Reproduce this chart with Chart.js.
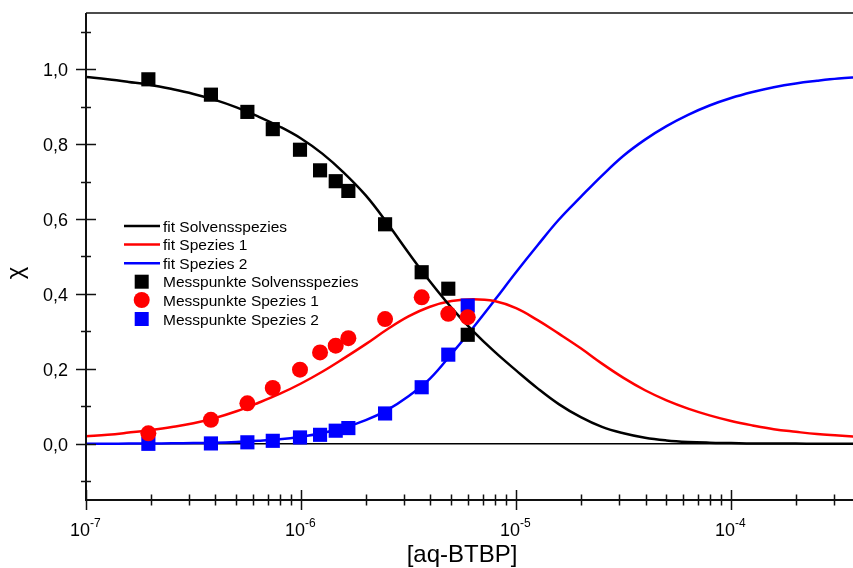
<!DOCTYPE html>
<html>
<head>
<meta charset="utf-8">
<script src="https://cdn.jsdelivr.net/npm/chart.js@4.4.1/dist/chart.umd.min.js"></script>
<style>
  html, body { margin: 0; padding: 0; background: #fff; }
  #chart { display: block; }
</style>
</head>
<body>
<canvas id="chart" width="853" height="568"></canvas>
<script>
// Messpunkte: [aq-BTBP] and species fractions
var messX = [1.95e-7, 3.81e-7, 5.63e-7, 7.39e-7, 9.89e-7, 1.226e-6, 1.45e-6, 1.66e-6, 2.46e-6, 3.64e-6, 4.84e-6, 5.96e-6];
var messSolvens = [0.973, 0.932, 0.886, 0.840, 0.785, 0.730, 0.701, 0.675, 0.586, 0.458, 0.414, 0.291];
var messSpezies1 = [0.028, 0.064, 0.108, 0.149, 0.198, 0.244, 0.262, 0.282, 0.333, 0.391, 0.347, 0.338];
var messSpezies2 = [0.000, 0.001, 0.004, 0.008, 0.017, 0.024, 0.035, 0.042, 0.081, 0.151, 0.238, 0.369];

// fit curves, one sample every 0.1 decade
var fitX = [
  1.00e-7, 1.26e-7, 1.58e-7, 2.00e-7, 2.51e-7, 3.16e-7, 3.98e-7, 5.01e-7, 6.31e-7, 7.94e-7,
  1.00e-6, 1.26e-6, 1.58e-6, 2.00e-6, 2.51e-6, 3.16e-6, 3.98e-6, 5.01e-6, 6.31e-6, 7.94e-6,
  1.00e-5, 1.26e-5, 1.58e-5, 2.00e-5, 2.51e-5, 3.16e-5, 3.98e-5, 5.01e-5, 6.31e-5, 7.94e-5,
  1.00e-4, 1.26e-4, 1.58e-4, 2.00e-4, 2.51e-4, 3.16e-4, 3.98e-4
];
var fitSolvens = [
  0.979, 0.973, 0.966, 0.958, 0.947, 0.934, 0.918, 0.898, 0.874, 0.847,
  0.815, 0.774, 0.724, 0.663, 0.590, 0.510, 0.433, 0.363, 0.301, 0.246,
  0.196, 0.148, 0.106, 0.071, 0.045, 0.028, 0.016, 0.009, 0.005, 0.003,
  0.002, 0.001, 0.001, 0.0005, 0.0003, 0.0002, 0.0001
];
var fitSpezies1 = [
  0.020, 0.024, 0.030, 0.037, 0.045, 0.055, 0.069, 0.087, 0.109, 0.133,
  0.161, 0.193, 0.228, 0.266, 0.305, 0.340, 0.366, 0.381, 0.386, 0.381,
  0.362, 0.330, 0.294, 0.255, 0.214, 0.176, 0.143, 0.116, 0.094, 0.076,
  0.061, 0.049, 0.039, 0.032, 0.026, 0.022, 0.018
];
var fitSpezies2 = [
  0.0002, 0.0003, 0.0005, 0.0008, 0.0013, 0.002, 0.003, 0.005, 0.008, 0.012,
  0.019, 0.029, 0.043, 0.063, 0.090, 0.127, 0.174, 0.240, 0.310, 0.383,
  0.458, 0.530, 0.598, 0.659, 0.716, 0.769, 0.812, 0.848, 0.878, 0.903,
  0.923, 0.939, 0.952, 0.962, 0.969, 0.975, 0.979
];

var yMajorTicks = [0, 0.2, 0.4, 0.6, 0.8, 1.0];
var yTickLabels = ["0,0", "0,2", "0,4", "0,6", "0,8", "1,0"];
var yMinorTicks = [-0.1, 0.1, 0.3, 0.5, 0.7, 0.9, 1.1];
var xDecades = [1e-7, 1e-6, 1e-5, 1e-4];
var xExponents = ["-7", "-6", "-5", "-4"];

var legendLabels = ["fit Solvensspezies", "fit Spezies 1", "fit Spezies 2",
  "Messpunkte Solvensspezies", "Messpunkte Spezies 1", "Messpunkte Spezies 2"];

var FONT = '"Liberation Sans", Arial, sans-serif';
var X_MIN = 1e-7, X_MAX = 3.69e-4;

function toPoints(xs, ys) {
  return xs.map(function(x, i) { return { x: x, y: ys[i] }; });
}

function fitDataset(label, ys, color) {
  return {
    label: label,
    data: toPoints(fitX, ys),
    showLine: true,
    borderColor: color,
    borderWidth: 2.5,
    pointRadius: 0,
    tension: 0.4,
    order: 5
  };
}

function pointDataset(label, ys, color, style, radius, order) {
  return {
    label: label,
    data: toPoints(messX, ys),
    showLine: false,
    pointStyle: style,
    pointRadius: radius,
    pointBackgroundColor: color,
    pointBorderColor: color,
    pointBorderWidth: 0,
    order: order
  };
}

// axes, ticks, labels and legend drawn in Origin style
var originFrame = {
  id: 'originFrame',
  beforeDatasetsDraw: function(chart) {
    var ctx = chart.ctx, a = chart.chartArea;
    var y0 = chart.scales.y.getPixelForValue(0);
    ctx.save();
    ctx.strokeStyle = '#000';
    ctx.lineWidth = 1.5;
    ctx.beginPath();
    ctx.moveTo(a.left, y0);
    ctx.lineTo(a.right, y0);
    ctx.stroke();
    ctx.restore();
  },
  afterDraw: function(chart) {
    var ctx = chart.ctx, a = chart.chartArea;
    var xs = chart.scales.x, ys = chart.scales.y;
    ctx.save();
    ctx.strokeStyle = '#111';
    ctx.lineCap = 'butt';

    // frame: left and bottom axes, top border
    ctx.lineWidth = 2;
    ctx.beginPath();
    ctx.moveTo(a.left, a.top);
    ctx.lineTo(a.left, a.bottom);
    ctx.lineTo(a.right, a.bottom);
    ctx.stroke();
    ctx.lineWidth = 1.5;
    ctx.beginPath();
    ctx.moveTo(a.left, a.top);
    ctx.lineTo(a.right, a.top);
    ctx.stroke();

    // y ticks
    ctx.lineWidth = 1.5;
    ctx.beginPath();
    yMajorTicks.forEach(function(v) {
      var p = Math.round(ys.getPixelForValue(v)) + 0.5;
      ctx.moveTo(a.left - 10, p);
      ctx.lineTo(a.left + 10, p);
    });
    yMinorTicks.forEach(function(v) {
      var p = Math.round(ys.getPixelForValue(v)) + 0.5;
      ctx.moveTo(a.left - 5, p);
      ctx.lineTo(a.left + 5, p);
    });
    // x ticks (log)
    xDecades.forEach(function(d) {
      var p = Math.round(xs.getPixelForValue(d)) + 0.5;
      ctx.moveTo(p, a.bottom - 10);
      ctx.lineTo(p, a.bottom + 10);
      for (var m = 2; m <= 9; m++) {
        if (d * m > X_MAX) break;
        var q = Math.round(xs.getPixelForValue(d * m)) + 0.5;
        ctx.moveTo(q, a.bottom - 5.5);
        ctx.lineTo(q, a.bottom + 5.5);
      }
    });
    ctx.stroke();

    // tick labels
    ctx.fillStyle = '#000';
    ctx.textBaseline = 'alphabetic';
    ctx.font = '18px ' + FONT;
    ctx.textAlign = 'right';
    yMajorTicks.forEach(function(v, i) {
      ctx.fillText(yTickLabels[i], a.left - 18, ys.getPixelForValue(v) + 6.7);
    });
    xDecades.forEach(function(d, i) {
      var p = xs.getPixelForValue(d);
      ctx.font = '18px ' + FONT;
      ctx.textAlign = 'right';
      ctx.fillText('10', p + 4, a.bottom + 36);
      ctx.font = '12px ' + FONT;
      ctx.textAlign = 'left';
      ctx.fillText(xExponents[i], p + 4, a.bottom + 27);
    });

    // axis titles
    ctx.font = '24px ' + FONT;
    ctx.textAlign = 'center';
    ctx.fillText('[aq-BTBP]', 462, 562);
    ctx.save();
    ctx.translate(23, 273);
    ctx.rotate(-Math.PI / 2);
    ctx.font = '24px ' + FONT;
    ctx.fillText('\u03C7', 0, 0);
    ctx.restore();

    // legend
    var rows = [226, 244.5, 263.3, 281.7, 300, 319];
    var colors = ['#000000', '#ff0000', '#0000ff', '#000000', '#ff0000', '#0000ff'];
    ctx.font = '15.5px ' + FONT;
    ctx.textAlign = 'left';
    rows.forEach(function(y, i) {
      ctx.fillStyle = colors[i];
      ctx.strokeStyle = colors[i];
      if (i < 3) {
        ctx.lineWidth = 2.5;
        ctx.beginPath();
        ctx.moveTo(124, y);
        ctx.lineTo(160, y);
        ctx.stroke();
      } else if (i === 4) {
        ctx.beginPath();
        ctx.arc(141.7, y, 8, 0, Math.PI * 2);
        ctx.fill();
      } else {
        ctx.fillRect(141.7 - 7, y - 7, 14, 14);
      }
      ctx.fillStyle = '#000';
      ctx.fillText(legendLabels[i], 163, y + 5.5);
    });
    ctx.restore();
  }
};

new Chart(document.getElementById('chart'), {
  type: 'scatter',
  data: {
    datasets: [
      pointDataset(legendLabels[3], messSolvens, '#000000', 'rect', 10, 1),
      pointDataset(legendLabels[4], messSpezies1, '#ff0000', 'circle', 8, 2),
      pointDataset(legendLabels[5], messSpezies2, '#0000ff', 'rect', 10, 3),
      fitDataset(legendLabels[0], fitSolvens, '#000000'),
      fitDataset(legendLabels[1], fitSpezies1, '#ff0000'),
      fitDataset(legendLabels[2], fitSpezies2, '#0000ff')
    ]
  },
  options: {
    responsive: false,
    animation: false,
    devicePixelRatio: 1,
    layout: { padding: { top: 13, right: 0, bottom: 0, left: 0 }, autoPadding: false },
    plugins: {
      legend: { display: false },
      tooltip: { enabled: false }
    },
    scales: {
      x: {
        type: 'logarithmic',
        min: X_MIN,
        max: X_MAX,
        grid: { display: false },
        border: { display: false },
        ticks: { display: false },
        afterFit: function(scale) { scale.height = 68; }
      },
      y: {
        type: 'linear',
        min: -0.15,
        max: 1.15,
        grid: { display: false },
        border: { display: false },
        ticks: { display: false },
        afterFit: function(scale) { scale.width = 86; }
      }
    }
  },
  plugins: [originFrame]
});
</script>
</body>
</html>
